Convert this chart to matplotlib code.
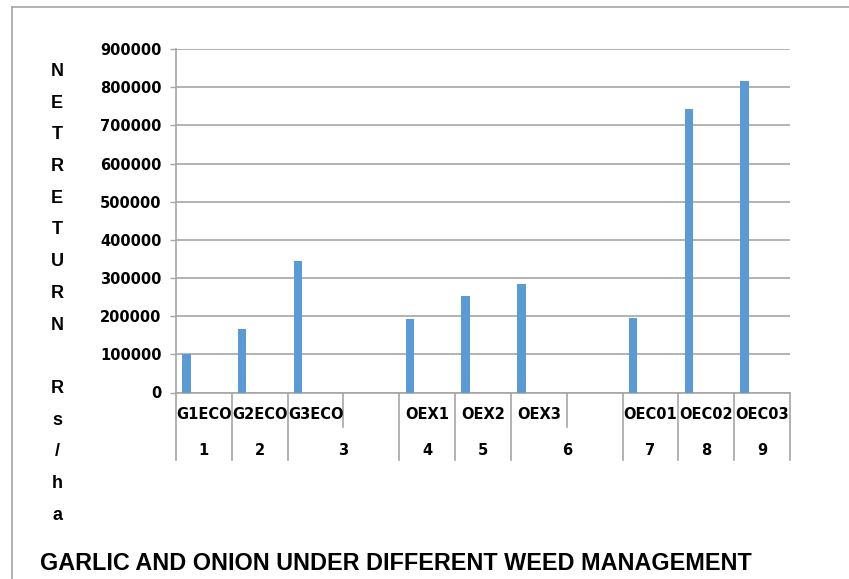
import numpy as np
import matplotlib.pyplot as plt
from matplotlib.lines import Line2D

# dados
categorias = ["G1ECO", "G2ECO", "G3ECO", "", "OEX1", "OEX2", "OEX3", "", "OEC01", "OEC02", "OEC03"]
retorno = [101000, 167000, 344000, np.nan, 193000, 254000, 284000, np.nan, 194000, 743000, 816000]
grupos = ["1", "2", "3", "4", "5", "6", "7", "8", "9"]
tamanho_grupo = [1, 1, 2, 1, 1, 2, 1, 1, 1]
rotulo_y = "NETRETURN Rs/ha"
titulo = "GARLIC AND ONION UNDER DIFFERENT WEED MANAGEMENT"

cinza = "#A6A6A6"
azul = "#5B9BD5"

fig = plt.figure(figsize=(8.49, 5.79), dpi=100)
ax = fig.add_axes([176 / 849, 1 - 392.5 / 579, 614 / 849, 343.5 / 579])

x = np.arange(len(categorias))
ax.bar(x - 0.387, retorno, width=0.15, align="edge", color=azul, zorder=3)

ax.set_xlim(-0.5, len(categorias) - 0.5)
ax.set_ylim(0, 900000)
ax.set_yticks(np.arange(0, 900001, 100000))
ax.set_yticklabels([str(v) for v in range(0, 900001, 100000)],
                   fontfamily="DejaVu Sans", fontweight="bold", fontsize=10.5)
ax.tick_params(axis="y", length=4.3, width=1, color=cinza, pad=6)
ax.set_xticks([])
ax.yaxis.grid(True, color=cinza, linewidth=1.2, zorder=0)
for s in ["top", "right"]:
    ax.spines[s].set_visible(False)
for s in ["left", "bottom"]:
    ax.spines[s].set_color(cinza)
    ax.spines[s].set_linewidth(1.2)

trans = ax.get_xaxis_transform()
fonte = dict(fontfamily="DejaVu Sans", fontweight="bold", fontsize=10.5)

# primeira linha de rótulos
for i, c in enumerate(categorias):
    ax.text(i, -0.0655, c, ha="center", va="center", transform=trans, **fonte)

# segunda linha (grupos) e divisórias
inicio = -0.5
limites = [inicio]
for g, n in zip(grupos, tamanho_grupo):
    fim = inicio + n
    ax.text((inicio + fim) / 2, -0.1674, g, ha="center", va="center", transform=trans, **fonte)
    for k in range(1, n):
        ax.add_line(Line2D([inicio + k, inicio + k], [0, -0.1004], transform=trans,
                           color=cinza, lw=1.2, clip_on=False))
    limites.append(fim)
    inicio = fim
for b in limites:
    ax.add_line(Line2D([b, b], [0, -0.1965], transform=trans,
                       color=cinza, lw=1.2, clip_on=False))

# rótulo do eixo y, uma letra por linha
for k, letra in enumerate(rotulo_y):
    fig.text(57 / 849, 1 - (71.5 + 31.7 * k) / 579, letra, ha="center", va="center",
             fontfamily=["Liberation Sans", "DejaVu Sans"], fontweight="bold", fontsize=13)

fig.text(40 / 849, 1 - 563 / 579, titulo, ha="left", va="center",
         fontfamily=["Liberation Sans", "DejaVu Sans"], fontweight="bold", fontsize=16.8)

# moldura
fig.add_artist(Line2D([11.5 / 849, 1], [1 - 6.5 / 579] * 2, color=cinza, lw=1.2))
fig.add_artist(Line2D([11.5 / 849] * 2, [0, 1 - 6.5 / 579], color=cinza, lw=1.2))

fig.savefig("out.png", dpi=100)
